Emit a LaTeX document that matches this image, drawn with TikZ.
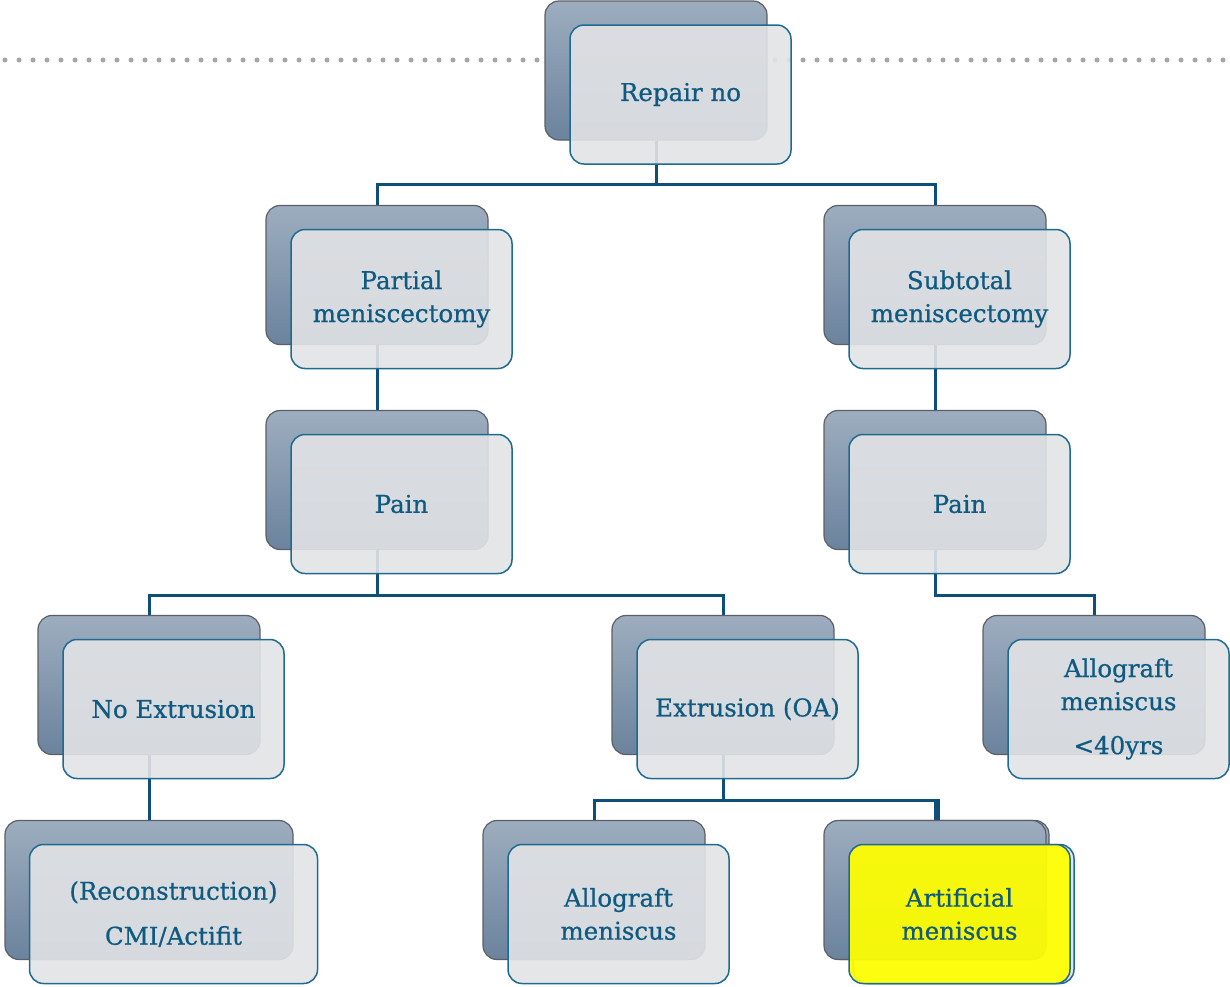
\documentclass[tikz,border=0pt]{standalone}
\usepackage{fontspec}
\setmainfont{DejaVu Serif}
\newfontfamily\boxfont{DejaVu Serif}[FakeBold=0.7]
\usetikzlibrary{calc,backgrounds}

\definecolor{backtop}{HTML}{9DADBF}
\definecolor{backbot}{HTML}{6B839D}
\definecolor{boxedge}{HTML}{5C5F66}
\definecolor{frontfill}{HTML}{E2E3E5}
\definecolor{frontedge}{HTML}{1E6A90}
\definecolor{textblue}{HTML}{0E5A80}
\definecolor{connblue}{HTML}{0D4F78}
\definecolor{hilite}{HTML}{FFFF00}

\tikzset{
	backbox/.style={draw=boxedge, line width=1.2pt, rounded corners=14pt, top color=backtop, bottom color=backbot, minimum width=222pt, minimum height=139pt},
	frontbox/.style={draw=frontedge, line width=1.5pt, rounded corners=14pt, fill=frontfill, fill opacity=0.9, text opacity=1, text=textblue, align=center, minimum width=221pt, minimum height=139pt, font=\boxfont\fontsize{24.5}{33}\selectfont},
	conn/.style={draw=connblue, line width=3pt},
	dots/.style={draw=gray!70, line width=5pt, line cap=round, dash pattern=on 0pt off 14pt}
}

\begin{document}
\begin{tikzpicture}[x=1pt,y=-1pt]
	\useasboundingbox (0,0) rectangle (1230,986);

	% first level
	\node[backbox] (rep-b) at (656,70.5) {};
	\node[frontbox] (rep) at (680.5,94.5) {Repair no};

	% meniscectomy
	\node[backbox] (par-b) at (377,275) {};
	\node[frontbox] (par) at (401.5,299) {Partial\\meniscectomy};
	\node[backbox] (sub-b) at (935,275) {};
	\node[frontbox] (sub) at (959.5,299) {Subtotal\\meniscectomy};

	% pain
	\node[backbox] (painl-b) at (377,480) {};
	\node[frontbox] (painl) at (401.5,504) {Pain};
	\node[backbox] (painr-b) at (935,480) {};
	\node[frontbox] (painr) at (959.5,504) {Pain};

	% extrusion
	\node[backbox] (noext-b) at (149,685) {};
	\node[frontbox] (noext) at (173.5,709) {No Extrusion};
	\node[backbox] (ext-b) at (723,685) {};
	\node[frontbox] (ext) at (747.5,709) {Extrusion (OA)};
	\node[backbox] (allo1-b) at (1094,685) {};
	\node[frontbox] (allo1) at (1118.5,709) {Allograft\\meniscus\\[11pt]<40yrs};

	% treatment
	\node[backbox, minimum width=288pt] (recon-b) at (149,890) {};
	\node[frontbox, minimum width=288pt] (recon) at (173.5,914) {(Reconstruction)\\[12pt]CMI/Actifit};
	\node[backbox] (allo2-b) at (594,890) {};
	\node[frontbox] (allo2) at (618.5,914) {Allograft\\meniscus};
	\node[backbox] (art2-b) at (938,890) {};
	\node[frontbox] (art2) at (963.5,914) {};
	\node[backbox] (art-b) at (935,890) {};
	\node[frontbox, fill=hilite, fill opacity=0.93] (art) at (959.5,914) {Artificial\\meniscus};

	\begin{pgfonlayer}{background}
		\draw[dots] (5,60) -- (1228,60);
		\draw[conn] (rep-b.south) -- ++(0,44) coordinate (j1) -| (par-b.north);
		\draw[conn] (j1) -| (sub-b.north);
		\draw[conn] (par-b.south) -- (painl-b.north);
		\draw[conn] (sub-b.south) -- (painr-b.north);
		\draw[conn] (painl-b.south) -- ++(0,45) coordinate (j2) -| (noext-b.north);
		\draw[conn] (j2) -| (ext-b.north);
		\draw[conn] (painr-b.south) -- ++(0,45) -| (allo1-b.north);
		\draw[conn] (noext-b.south) -- (recon-b.north);
		\draw[conn] (ext-b.south) -- ++(0,45) coordinate (j3) -| (allo2-b.north);
		\draw[conn] (j3) -| (art-b.north);
		\draw[conn] (j3) -| (art2-b.north);
	\end{pgfonlayer}
\end{tikzpicture}
\end{document}
